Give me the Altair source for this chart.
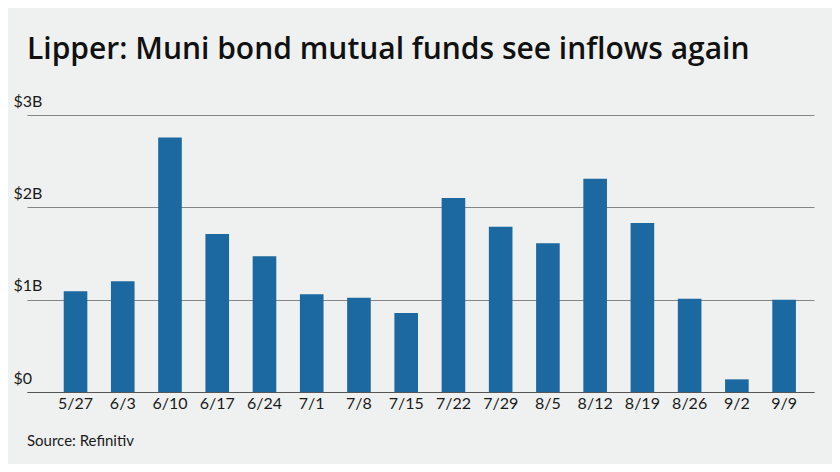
import altair as alt
import pandas as pd

title_text = "Lipper: Muni bond mutual funds see inflows again"
source_text = "Source: Refinitiv"
weeks = ["5/27", "6/3", "6/10", "6/17", "6/24", "7/1", "7/8", "7/15",
         "7/22", "7/29", "8/5", "8/12", "8/19", "8/26", "9/2", "9/9"]
flows = [1.09, 1.20, 2.755, 1.71, 1.47, 1.06, 1.02, 0.855,
         2.10, 1.79, 1.61, 2.31, 1.83, 1.01, 0.137, 1.00]
y_ticks = [0, 1, 2, 3]

df = pd.DataFrame({"week": weeks, "flow": flows})
src = pd.DataFrame({"t": [source_text]})

FONT = "Lato"
W, H = 787, 277

bars = alt.Chart(df).mark_bar(color="#1c68a1").encode(
    x=alt.X("week:N", sort=weeks, title=None,
            scale=alt.Scale(paddingInner=0.5, paddingOuter=0.58, align=0.67),
            axis=alt.Axis(labelAngle=0, ticks=False, domain=True, domainColor="#555555",
                          labelFontSize=16, labelColor="#1a1a1a", labelPadding=3,
                          labelFont=FONT)),
    y=alt.Y("flow:Q", title=None,
            scale=alt.Scale(domain=[0, 3], nice=False),
            axis=alt.Axis(values=y_ticks, ticks=False, domain=False,
                          labelExpr="datum.value == 0 ? '$0' : '$' + datum.value + 'B'",
                          labelAlign="left", labelBaseline="alphabetic",
                          labelPadding=14, labelOffset=-9,
                          labelFontSize=16, labelColor="#1a1a1a", labelFont=FONT,
                          grid=True, gridColor="#858585", gridWidth=1)),
)

source = alt.Chart(src).mark_text(
    align="left", baseline="alphabetic", fontSize=15, font=FONT, color="#1a1a1a"
).encode(x=alt.value(0), y=alt.value(331), text="t:N")

chart = alt.layer(bars, source).properties(
    width=W, height=H,
    title=alt.TitleParams(title_text, anchor="start", frame="group", fontSize=30,
                          font="Open Sans", fontWeight=600, color="#111111",
                          baseline="alphabetic", offset=4),
    autosize=alt.AutoSizeParams(type="none"),
    padding={"left": 19, "top": 107, "right": 18, "bottom": 72},
).configure(background="#eff1f0").configure_view(stroke=None)

chart.save("out.html", embed_options={"renderer": "svg", "actions": False})
